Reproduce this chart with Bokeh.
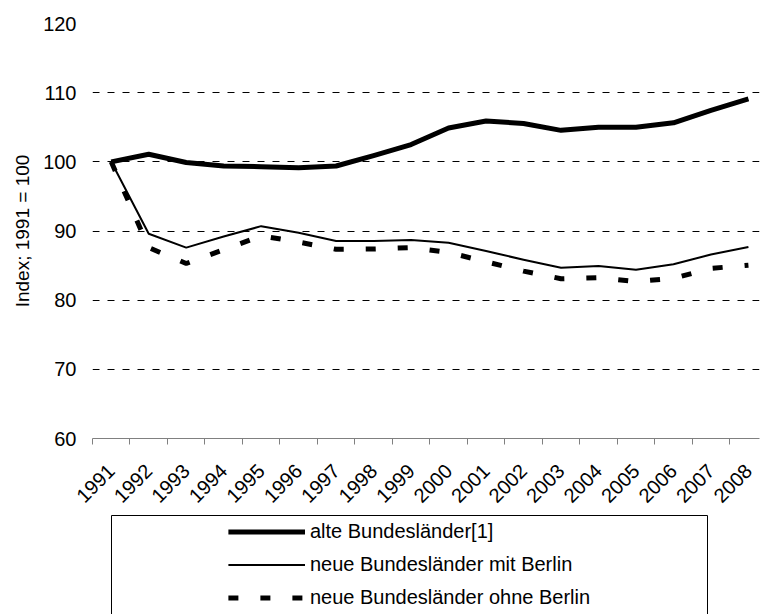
import math
from bokeh.plotting import figure
from bokeh.models import FixedTicker, Legend, LegendItem, Range1d, LinearAxis
from bokeh.layouts import column
from bokeh.embed import file_html
from bokeh.resources import INLINE

# ---- data ----
years = [str(y) for y in range(1991, 2009)]
alte = [100.0, 101.1, 99.9, 99.4, 99.3, 99.15, 99.4, 100.9, 102.5, 104.9,
        105.9, 105.55, 104.55, 105.0, 105.0, 105.65, 107.45, 109.1]
mit = [100.0, 89.6, 87.6, 89.2, 90.7, 89.75, 88.55, 88.55, 88.7, 88.3,
       87.1, 85.85, 84.7, 84.95, 84.4, 85.2, 86.6, 87.7]
ohne = [100.0, 87.6, 85.3, 87.3, 89.3, 88.4, 87.35, 87.4, 87.6, 86.9,
        85.55, 84.2, 83.1, 83.25, 82.7, 83.15, 84.6, 85.05]
y_ticks = [60, 70, 80, 90, 100, 110, 120]
series_labels = ["alte Bundesländer[1]", "neue Bundesländer mit Berlin",
                 "neue Bundesländer ohne Berlin"]
y_title = "Index; 1991 = 100"

FONT = "Liberation Sans"
xs = list(range(len(years)))
boundaries = [i - 0.5 for i in range(len(years) + 1)]

SHIFT = 9          # main chart pulled left so its plot area starts at x=92
LEFT = 101         # left panel needed by the y axis and its title
FRAME_W = 678
CAT_W = 38.1
BOX_OFFSET = 10    # legend box starts at x=111

THICK = dict(line_width=5, line_color="black", line_join="round")
THIN = dict(line_width=2, line_color="black", line_join="round")
DASHED = dict(line_width=5, line_color="black", line_dash="10 22")

# ---- main chart ----
p = figure(width=LEFT + FRAME_W, height=515, output_backend="svg",
           toolbar_location=None,
           x_range=Range1d(-0.5, -0.5 + FRAME_W / CAT_W), y_range=Range1d(60, 120),
           min_border_left=LEFT, min_border_right=0, min_border_top=23,
           min_border_bottom=77)
p.margin = (0, 0, 0, -SHIFT)
p.outline_line_color = None
p.background_fill_color = "white"
p.border_fill_color = "white"

xa = p.xaxis[0]
xa.ticker = FixedTicker(ticks=xs, minor_ticks=boundaries)
xa.major_label_overrides = {i: y for i, y in zip(xs, years)}
xa.major_tick_out = 0
xa.major_tick_in = 0
xa.minor_tick_out = 6
xa.minor_tick_in = 0
xa.minor_tick_line_color = "#808080"
xa.axis_line_color = "#808080"
xa.major_label_orientation = math.pi / 4
xa.major_label_standoff = 23
xa.major_label_text_font = FONT
xa.major_label_text_font_size = "20px"
xa.major_label_text_color = "black"

ya = p.yaxis[0]
ya.ticker = FixedTicker(ticks=y_ticks)
ya.axis_line_color = None
ya.major_tick_out = 0
ya.major_tick_in = 0
ya.minor_tick_line_color = None
ya.major_label_standoff = 16
ya.major_label_text_font = FONT
ya.major_label_text_font_size = "20px"
ya.major_label_text_color = "black"
ya.axis_label = y_title
ya.axis_label_text_font = FONT
ya.axis_label_text_font_size = "19px"
ya.axis_label_text_font_style = "normal"
ya.axis_label_text_color = "black"
ya.axis_label_standoff = 7

p.xgrid.visible = False
p.ygrid.ticker = FixedTicker(ticks=y_ticks[1:])
p.ygrid.grid_line_color = "black"
p.ygrid.grid_line_width = 1
p.ygrid.grid_line_dash = "7 8"

p.line(xs, mit, **THIN)
p.line(xs, ohne, **DASHED)
p.line(xs, alte, **THICK)

# ---- legend box (cut off at the bottom, as in the reference) ----
q = figure(width=LEFT + 596 + 2, height=99, output_backend="svg",
           toolbar_location=None,
           x_range=Range1d(0, 1), y_range=Range1d(0, 1),
           x_axis_type=None, y_axis_type=None,
           min_border_left=LEFT, min_border_right=2, min_border_top=0,
           min_border_bottom=0)
q.margin = (0, 0, 0, BOX_OFFSET)
q.outline_line_color = None
q.xgrid.visible = False
q.ygrid.visible = False
q.background_fill_color = "white"
q.border_fill_color = "white"
for side in ["left", "right", "above"]:
    ax = LinearAxis(ticker=FixedTicker(ticks=[]), axis_line_color="black",
                    major_tick_out=0, major_tick_in=0, minor_tick_out=0,
                    minor_tick_in=0, major_label_standoff=0,
                    major_label_text_font_size="0px")
    q.add_layout(ax, side)

# legend sample lines reuse the series (they fall outside this panel's ranges)
l1 = q.line(xs, alte, **THICK)
l2 = q.line(xs, mit, **THIN)
l3 = q.line(xs, ohne, **DASHED)

legend = Legend(items=[LegendItem(label=series_labels[0], renderers=[l1]),
                       LegendItem(label=series_labels[1], renderers=[l2]),
                       LegendItem(label=series_labels[2], renderers=[l3])],
                location="top_center", orientation="vertical", padding=0,
                margin=0, spacing=0, glyph_width=77, glyph_height=33,
                label_height=33, label_standoff=5, label_text_font=FONT,
                label_text_font_size="20px", label_text_color="black",
                border_line_alpha=0, background_fill_alpha=0)
q.add_layout(legend)

layout = column(p, q)
open("out.html", "w").write(file_html(layout, INLINE))
